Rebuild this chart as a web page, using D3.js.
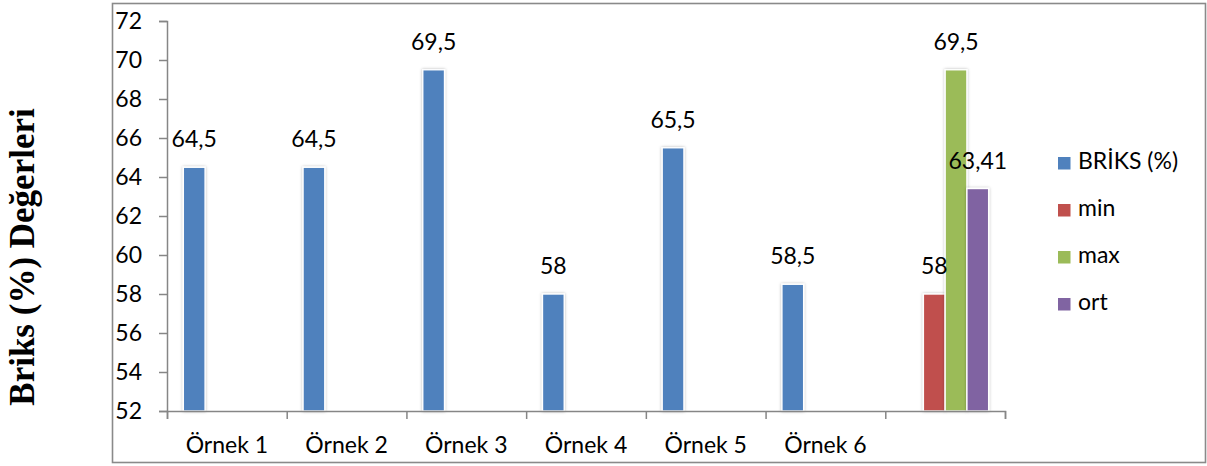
<!DOCTYPE html>
<html>
<head>
<meta charset="utf-8">
<script src="https://cdn.jsdelivr.net/npm/d3@7"></script>
<style>
  html, body { margin: 0; padding: 0; background: #fff; }
  svg { display: block; }
  text { font-family: Lato, "Open Sans", sans-serif; fill: #000; }
</style>
</head>
<body>
<svg id="chart" width="1207" height="466"></svg>
<script>
// Category labels along the x axis (last group holds the summary bars)
const categories = ["Örnek 1", "Örnek 2", "Örnek 3", "Örnek 4", "Örnek 5", "Örnek 6", "Özet"];
const categoryLabels = ["Örnek 1", "Örnek 2", "Örnek 3", "Örnek 4", "Örnek 5", "Örnek 6", ""];

// Series names shown in the legend
const seriesNames = ["BRİKS (%)", "min", "max", "ort"];
const seriesColors = ["#4F81BD", "#C0504D", "#9BBB59", "#8064A2"];

// Values per series, one entry per category (null = no bar)
const briksValues = [64.5, 64.5, 69.5, 58, 65.5, 58.5, null];
const minValues   = [null, null, null, null, null, null, 58];
const maxValues   = [null, null, null, null, null, null, 69.5];
const ortValues   = [null, null, null, null, null, null, 63.41];

const yTicks = [52, 54, 56, 58, 60, 62, 64, 66, 68, 70, 72];
const yTitle = "Briks (%) Değerleri";

const seriesValues = [briksValues, minValues, maxValues, ortValues];

const svg = d3.select("#chart");

const plot = { left: 167, right: 1005, top: 21, bottom: 411 };

// Outer chart frame
svg.append("rect")
  .attr("x", 112.5).attr("y", 3.5)
  .attr("width", 1093).attr("height", 459)
  .attr("fill", "#fff")
  .attr("stroke", "#8a8a8a").attr("stroke-width", 1.6);

// Soft shadow around bars
const defs = svg.append("defs");
const f = defs.append("filter").attr("id", "barShadow")
  .attr("x", "-30%").attr("y", "-10%").attr("width", "160%").attr("height", "120%");
f.append("feDropShadow").attr("dx", 0).attr("dy", 0).attr("stdDeviation", 1.6)
  .attr("flood-color", "#000").attr("flood-opacity", 0.28);

const x0 = d3.scaleBand().domain(categories).range([plot.left, plot.right]).paddingInner(0).paddingOuter(0);
const x1 = d3.scaleBand().domain(seriesNames).range([0, x0.bandwidth()]).paddingInner(0).paddingOuter(0.75);
const y = d3.scaleLinear().domain([52, 72]).range([plot.bottom, plot.top]);

const fmt = v => String(v).replace(".", ",");

// Bars
const bars = [];
seriesNames.forEach((s, si) => {
  categories.forEach((c, ci) => {
    const v = seriesValues[si][ci];
    if (v != null) bars.push({ s, si, c, v });
  });
});

const barG = svg.append("g");
barG.selectAll("rect").data(bars).join("rect")
  .attr("x", d => x0(d.c) + x1(d.s))
  .attr("y", d => y(d.v))
  .attr("width", x1.bandwidth())
  .attr("height", d => y(52) - y(d.v))
  .attr("fill", d => seriesColors[d.si])
  .attr("stroke", "#fff").attr("stroke-width", 1.4)
  .attr("filter", "url(#barShadow)");

// Y axis
const yAxis = d3.axisLeft(y).tickValues(yTicks).tickSize(8).tickPadding(17).tickFormat(d => d);
const yg = svg.append("g").attr("transform", `translate(${plot.left},0)`).call(yAxis);
yg.select(".domain").attr("stroke", "#868686").attr("stroke-width", 1.5);
yg.selectAll(".tick line").attr("stroke", "#868686").attr("stroke-width", 1.5);
yg.selectAll(".tick text").style("font-family", "Lato").style("font-size", "23px").attr("fill", "#000");

// X axis: boundary ticks
const xEdges = d3.scaleLinear().domain([0, categories.length]).range([plot.left, plot.right]);
const xTickAxis = d3.axisBottom(xEdges).tickValues(d3.range(0, categories.length + 1)).tickSize(8).tickFormat("");
const xg = svg.append("g").attr("transform", `translate(0,${plot.bottom})`).call(xTickAxis);
xg.select(".domain").attr("stroke", "#868686").attr("stroke-width", 1.5);
xg.selectAll(".tick line").attr("stroke", "#868686").attr("stroke-width", 1.5);

// X axis: category labels centered in each group
const xLabelAxis = d3.axisBottom(x0).tickSize(0).tickPadding(26)
  .tickFormat((d, i) => categoryLabels[i]);
const xl = svg.append("g").attr("transform", `translate(0,${plot.bottom})`).call(xLabelAxis);
xl.select(".domain").remove();
xl.selectAll(".tick text").style("font-family", "Lato").style("font-size", "23px").attr("fill", "#000");

// Value labels above the bars
svg.append("g").selectAll("text").data(bars).join("text")
  .attr("x", d => x0(d.c) + x1(d.s) + x1.bandwidth() / 2)
  .attr("y", d => y(d.v) - 20)
  .attr("text-anchor", "middle")
  .style("font-size", "23px")
  .text(d => fmt(d.v));

// Y axis title
svg.append("text")
  .attr("transform", "translate(33.5,257) rotate(-90)")
  .attr("text-anchor", "middle")
  .style("font-family", "'Liberation Serif', 'Times New Roman', serif")
  .style("font-weight", "bold")
  .style("font-size", "35px")
  .text(yTitle);

// Legend
const legend = svg.append("g").selectAll("g").data(seriesNames).join("g")
  .attr("transform", (d, i) => `translate(1058,${157 + i * 47})`);
legend.append("rect").attr("width", 12.5).attr("height", 12.5)
  .attr("fill", (d, i) => seriesColors[i]);
legend.append("text").attr("x", 20).attr("y", 11.5)
  .style("font-size", "23px")
  .text(d => d);
</script>
</body>
</html>
